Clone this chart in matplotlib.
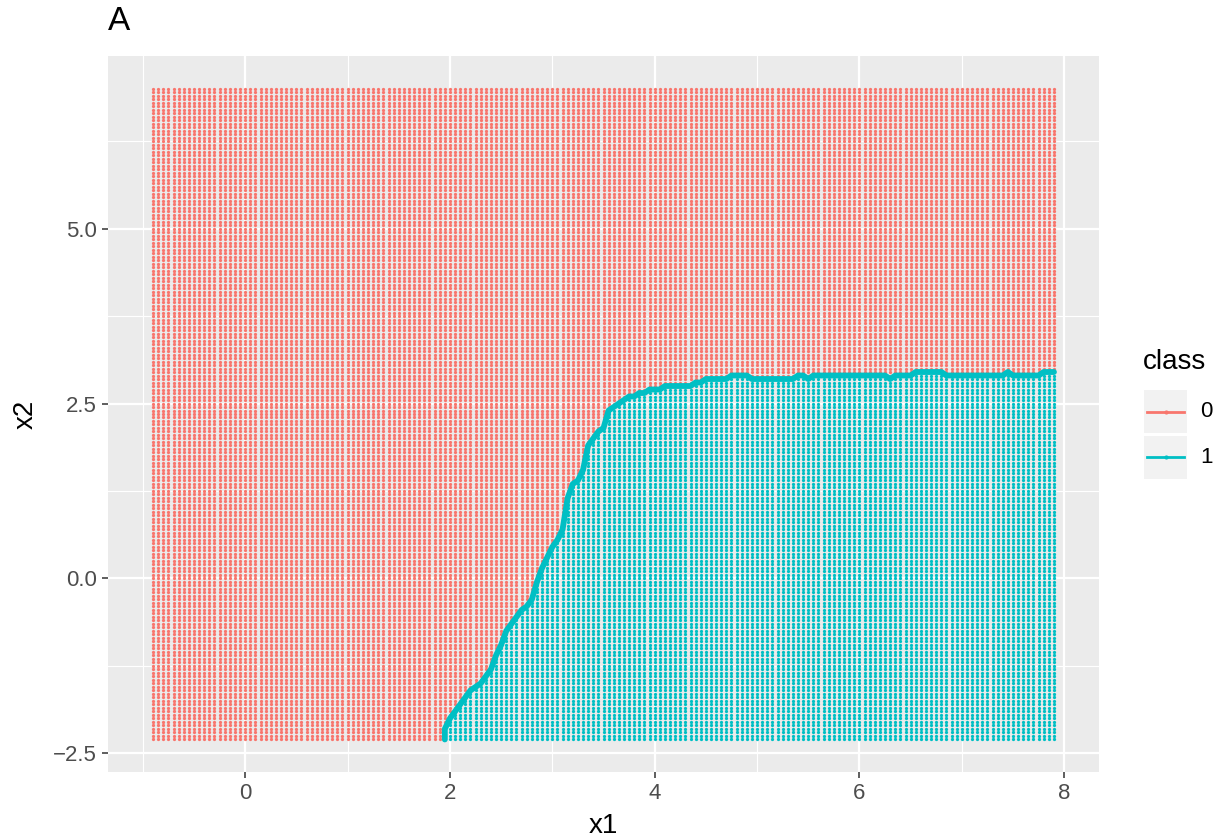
import numpy as np
import matplotlib
matplotlib.use("Agg")
import matplotlib.pyplot as plt
from matplotlib.patches import Rectangle
from matplotlib.lines import Line2D

plt.rcParams["font.family"] = ["Liberation Sans", "DejaVu Sans"]

# prediction grid
x1_grid = np.linspace(-0.9, 7.9, 177)
x2_grid = np.linspace(-2.3, 7.0, 187)

# decision boundary of the fitted classifier (upper edge of class 1 region)
boundary_x1 = [1.93, 1.97, 2.04, 2.13, 2.18, 2.28, 2.38, 2.42, 2.46, 2.51, 2.54, 2.62,
               2.67, 2.79, 2.82, 2.89, 2.98, 3.06, 3.10, 3.11, 3.16, 3.20, 3.27, 3.32,
               3.34, 3.39, 3.42, 3.50, 3.54, 3.64, 3.69, 3.78, 3.86, 3.96, 4.05, 4.12,
               4.18, 4.32, 4.41, 4.51, 4.71, 4.77, 4.91, 4.93, 5.35, 5.42, 5.50, 5.57,
               6.25, 6.30, 6.40, 6.50, 6.54, 6.77, 6.83, 7.40, 7.44, 7.50, 7.76, 7.81, 7.90]
boundary_x2 = [-2.26, -2.05, -1.93, -1.74, -1.64, -1.50, -1.36, -1.27, -1.07, -0.93, -0.79, -0.60,
               -0.50, -0.34, -0.17, 0.11, 0.40, 0.59, 0.73, 1.01, 1.21, 1.36, 1.44, 1.61,
               1.87, 1.97, 2.11, 2.16, 2.40, 2.51, 2.57, 2.59, 2.66, 2.69, 2.71, 2.79,
               2.76, 2.76, 2.80, 2.86, 2.87, 2.91, 2.91, 2.87, 2.87, 2.93, 2.87, 2.91,
               2.91, 2.87, 2.90, 2.90, 2.97, 2.97, 2.90, 2.90, 2.97, 2.90, 2.90, 2.97, 2.97]

class_labels = ["0", "1"]
class_colors = ["#F8766D", "#00BFC4"]

W, H = 1217, 839


def fig_xy(px, py):
    # pixel position (from top-left) -> figure fraction
    return px / W, 1 - py / H


def classify(gx, gy):
    thr = np.interp(gx, boundary_x1, boundary_x2)
    return ((gy <= thr + 0.02) & (gx >= boundary_x1[0] - 0.01)).astype(int)


def main():
    gx, gy = np.meshgrid(x1_grid, x2_grid)
    gx, gy = gx.ravel(), gy.ravel()
    cls = classify(gx, gy)

    fig = plt.figure(figsize=(W / 100, H / 100), dpi=100)
    left, top, right, bottom = 108, 56, 1099, 772
    ax = fig.add_axes([left / W, 1 - bottom / H, (right - left) / W, (bottom - top) / H])
    ax.set_facecolor("#EBEBEB")

    for k, col in enumerate(class_colors):
        m = cls == k
        ax.scatter(gx[m], gy[m], s=5.5, c=col, marker="o", linewidths=0, zorder=2)

    # boundary: top class-1 point in each column, closed down to the grid floor
    bx, by = [], []
    for xv in x1_grid:
        m = (np.isclose(gx, xv)) & (cls == 1)
        if m.any():
            if not bx:
                bx.append(xv)
                by.append(gy[m].min())
            bx.append(xv)
            by.append(gy[m].max())
    ax.plot(bx, by, color=class_colors[1], lw=4.2, solid_capstyle="round",
            solid_joinstyle="round", zorder=3)

    xr = x1_grid[-1] - x1_grid[0]
    yr = x2_grid[-1] - x2_grid[0]
    ax.set_xlim(x1_grid[0] - 0.05 * xr, x1_grid[-1] + 0.05 * xr)
    ax.set_ylim(x2_grid[0] - 0.05 * yr, x2_grid[-1] + 0.05 * yr)

    ax.set_xticks([0, 2, 4, 6, 8])
    ax.set_xticks([-1, 1, 3, 5, 7], minor=True)
    ax.set_yticks([-2.5, 0.0, 2.5, 5.0])
    ax.set_yticklabels(["\u22122.5", "0.0", "2.5", "5.0"])
    ax.set_yticks([-1.25, 1.25, 3.75, 6.25], minor=True)
    ax.grid(which="major", color="white", lw=1.6, zorder=0)
    ax.grid(which="minor", color="white", lw=0.8, zorder=0)
    ax.set_axisbelow(True)
    ax.tick_params(which="major", length=4.3, width=1.1, color="#333333",
                   labelsize=16, labelcolor="#4D4D4D", pad=3.5)
    ax.tick_params(which="minor", length=0)
    for sp in ax.spines.values():
        sp.set_visible(False)

    fig.text(*fig_xy(108, 22), "A", fontsize=24, ha="left", va="center")
    fig.text(*fig_xy(603, 826), "x1", fontsize=20, ha="center", va="center")
    fig.text(*fig_xy(26, 414), "x2", fontsize=20, ha="center", va="center", rotation=90)

    # legend
    fig.text(*fig_xy(1143, 362), "class", fontsize=20, ha="left", va="center")
    for i, (lab, col) in enumerate(zip(class_labels, class_colors)):
        y0 = 390 + i * 46
        bx0, by0 = fig_xy(1144, y0 + 43)
        fig.patches.append(Rectangle((bx0, by0), 43 / W, 43 / H, transform=fig.transFigure,
                                     facecolor="#F2F2F2", edgecolor="none"))
        lx0, ly = fig_xy(1147, y0 + 21.5)
        lx1, _ = fig_xy(1184, 0)
        fig.lines.append(Line2D([lx0, lx1], [ly, ly], transform=fig.transFigure,
                                color=col, lw=2.0))
        mx, _ = fig_xy(1165.5, 0)
        fig.lines.append(Line2D([mx], [ly], transform=fig.transFigure, color=col,
                                marker="o", markersize=3, markeredgewidth=0))
        fig.text(*fig_xy(1200, y0 + 21.5), lab, fontsize=16, ha="left", va="center")

    fig.savefig("out.png", dpi=100)
    plt.close(fig)


if __name__ == "__main__":
    main()
